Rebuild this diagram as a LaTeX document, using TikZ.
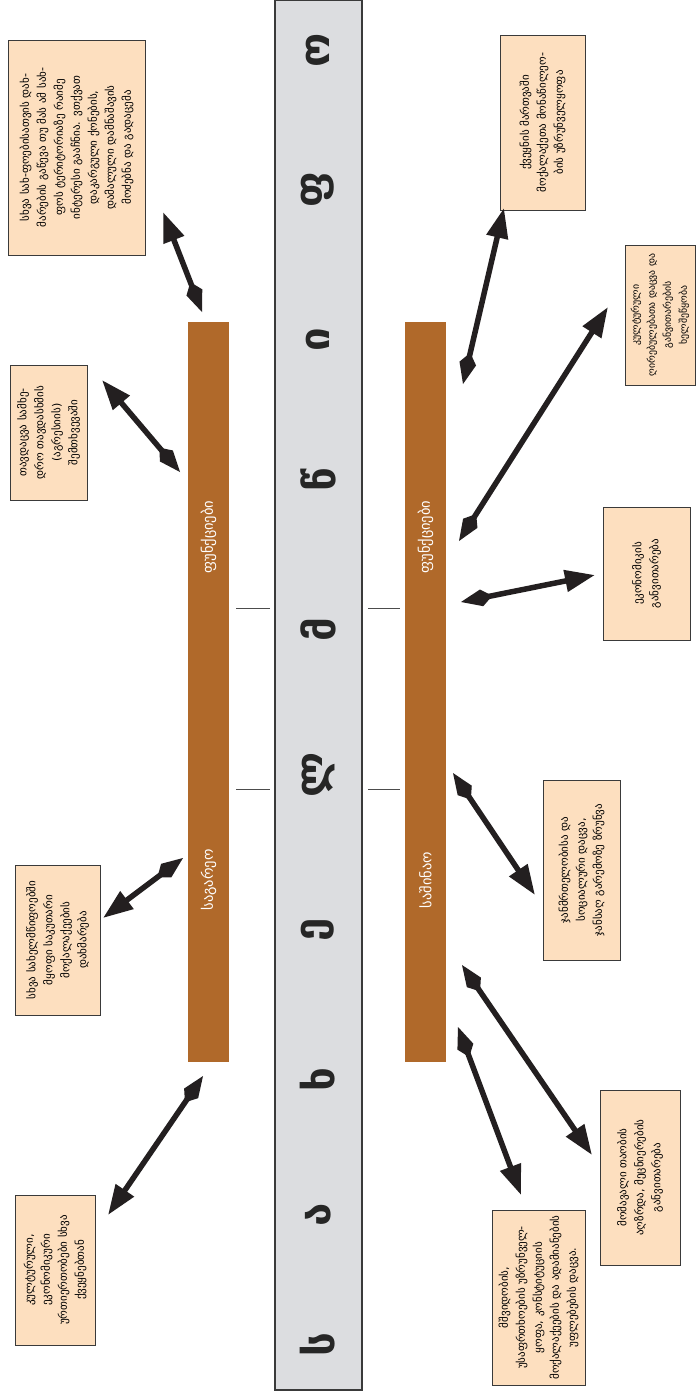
\documentclass[tikz,border=0pt]{standalone}
\usepackage{fontspec}
\setmainfont{DejaVu Sans}
\usetikzlibrary{arrows.meta}
\definecolor{boxfill}{HTML}{FDDFBF}
\definecolor{barfill}{HTML}{B0692A}
\definecolor{colfill}{HTML}{DCDDE0}
\definecolor{edge}{HTML}{3A3A3A}
\definecolor{arr}{HTML}{231F20}
\tikzset{
  infobox/.style={draw=edge, fill=boxfill, line width=0.8pt, rotate=90, align=center,
    inner sep=0pt, font=\fontsize{11}{17}\selectfont},
  barbox/.style={fill=barfill, draw=none},
  barlabel/.style={text=white, rotate=90, font=\fontsize{14.5}{16}\selectfont, inner sep=0pt},
  bigletter/.style={rotate=90, font=\bfseries\fontsize{42}{46}\selectfont, text=black!85, inner sep=0pt},
  fletched/.style={draw=arr, line width=5.5pt,
    {Kite[length=32pt,width=17pt,inset=11pt]}-{Triangle[length=30pt,width=21pt]}},
  tick/.style={draw=black!70, line width=0.8pt}
}
\begin{document}
\begin{tikzpicture}[x=1pt,y=-1pt]
\useasboundingbox (0,0) rectangle (700,1392);
\fill[white] (0,0) rectangle (700,1392);
% central column
\node[draw=edge, fill=colfill, line width=1.5pt, minimum width=87pt, minimum height=1390pt, inner sep=0pt] (col) at (318.5,695) {};
\foreach \l/\y [count=\i] in {ს/1345,ა/1215,ხ/1080,ე/930,ლ/775,მ/630,წ/480,ი/340,ფ/190,ო/50}
  \node[bigletter] (L\i) at (318,\y) {\l};
% bars
\node[barbox, minimum width=41pt, minimum height=740pt, inner sep=0pt] (lbar) at (208.5,692) {};
\node[barbox, minimum width=41pt, minimum height=740pt, inner sep=0pt] (rbar) at (425.5,692) {};
\node[barlabel] (lb1) at (208.5,880) {საგარეო};
\node[barlabel] (lb2) at (208.5,537) {ფუნქციები};
\node[barlabel] (rb1) at (425.5,880) {საშინაო};
\node[barlabel] (rb2) at (425.5,537) {ფუნქციები};
% ticks
\coordinate (ta1) at (236,608); \coordinate (tb1) at (270,608);
\coordinate (ta2) at (236,789); \coordinate (tb2) at (270,789);
\coordinate (ta3) at (368,608); \coordinate (tb3) at (400,608);
\coordinate (ta4) at (368,789); \coordinate (tb4) at (400,789);
\draw[tick] (ta1) -- (tb1); \draw[tick] (ta2) -- (tb2);
\draw[tick] (ta3) -- (tb3); \draw[tick] (ta4) -- (tb4);
% boxes
\node[infobox, minimum width=215pt, minimum height=137pt, text width=210pt] (b1) at (76.5,147.5)
 {სხვა სახ-ფოებისათვის დახ-\\მარების გაწევა თუ მას ამ სახ-\\ფოს ტერიტორიაზე რაიმე\\ინტერესი გააჩნია. ვთქვათ\\დაკარგული ქონების,\\დამალული დამნაშავის\\მოძებნა და გადაცემა};
\node[infobox, minimum width=135pt, minimum height=77pt, text width=130pt] (b2) at (48.5,432.5)
 {თავდაცვა სამხე-\\დრო თავდასხმის\\(აგრესიის)\\შემთხვევაში};
\node[infobox, minimum width=150pt, minimum height=85pt, text width=146pt] (b3) at (57.5,940)
 {სხვა სახელმწიფოებში\\მყოფი საკუთარი\\მოქალაქეების\\დახმარება};
\node[infobox, minimum width=150pt, minimum height=80pt, text width=146pt] (b4) at (55,1270)
 {კულტურული,\\ეკონომიკური\\ურთიერთობები სხვა\\ქვეყნებთან};
\node[infobox, minimum width=175pt, minimum height=85pt, text width=171pt] (b5) at (542.5,122.5)
 {ქვეყნის მართვაში\\მოქალაქეთა მონაწილეო-\\ბის უზრუნველყოფა};
\node[infobox, minimum width=140pt, minimum height=70pt, text width=138pt, font=\fontsize{9.8}{16}\selectfont] (b6) at (660,315)
 {კულტურული\\ღირებულებათა დაცვა და\\განვითარების\\ხელშეწყობა};
\node[infobox, minimum width=133pt, minimum height=87pt, text width=128pt] (b7) at (646.5,573.5)
 {ეკონომიკის\\განვითარება};
\node[infobox, minimum width=180pt, minimum height=77pt, text width=176pt] (b8) at (581.5,870)
 {ჯანმრთელობისა და\\სოციალური დაცვა,\\ჯანსაღ გარემოზე ზრუნვა};
\node[infobox, minimum width=175pt, minimum height=80pt, text width=171pt] (b9) at (640,1177.5)
 {მომავალი თაობის\\აღზრდა, მეცნიერების\\განვითარება};
\node[infobox, minimum width=175pt, minimum height=93pt, text width=172pt] (b10) at (538.5,1297.5)
 {მშვიდობის,\\უსაფრთხოების უზრუნველ-\\ყოფა, კონსტიტუციის\\მოქალაქეების და ადამიანების\\უფლებების დაცვა.};
% arrows
\coordinate (t1) at (202,312);  \coordinate (h1) at (163,212);
\coordinate (t2) at (180,472);  \coordinate (h2) at (102,380);
\coordinate (t3) at (183,858);  \coordinate (h3) at (103,918);
\coordinate (t4) at (203,1076); \coordinate (h4) at (108,1215);
\coordinate (t5) at (463,384);  \coordinate (h5) at (504,208);
\coordinate (t6) at (459,541);  \coordinate (h6) at (608,307);
\coordinate (t7) at (461,602);  \coordinate (h7) at (595,575);
\coordinate (t8) at (453,773);  \coordinate (h8) at (535,895);
\coordinate (t9) at (462,965);  \coordinate (h9) at (592,1155);
\coordinate (t10) at (458,1027); \coordinate (h10) at (521,1195);
\foreach \i in {1,...,10} \draw[fletched] (t\i) -- (h\i);
\end{tikzpicture}
\end{document}
